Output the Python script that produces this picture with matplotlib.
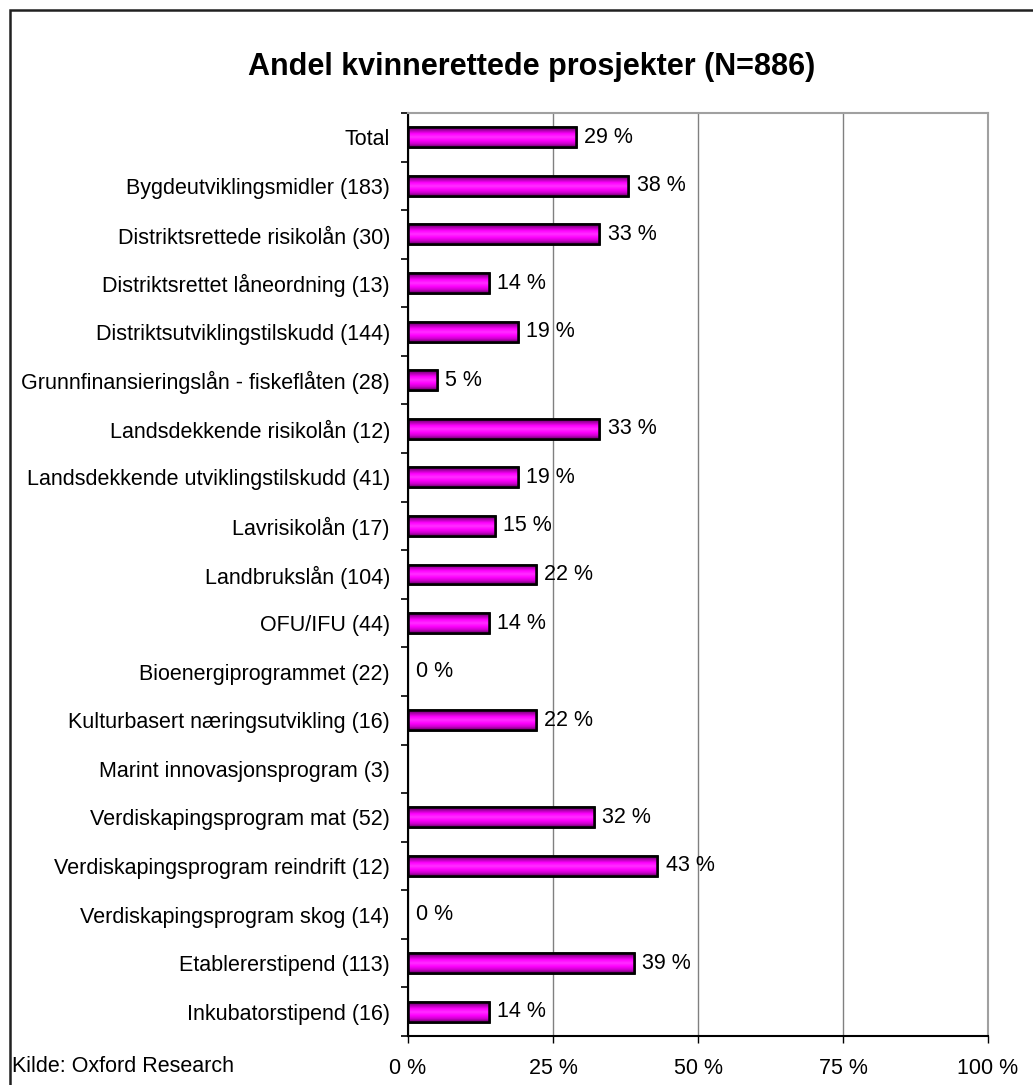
import numpy as np
import matplotlib
matplotlib.use("Agg")
import matplotlib.pyplot as plt
from matplotlib.colors import LinearSegmentedColormap
from matplotlib.patches import Rectangle

plt.rcParams['font.family'] = ['Liberation Sans', 'DejaVu Sans']

categories = [
    "Total",
    "Bygdeutviklingsmidler (183)",
    "Distriktsrettede risikolån (30)",
    "Distriktsrettet låneordning (13)",
    "Distriktsutviklingstilskudd (144)",
    "Grunnfinansieringslån - fiskeflåten (28)",
    "Landsdekkende risikolån (12)",
    "Landsdekkende utviklingstilskudd (41)",
    "Lavrisikolån (17)",
    "Landbrukslån (104)",
    "OFU/IFU (44)",
    "Bioenergiprogrammet (22)",
    "Kulturbasert næringsutvikling (16)",
    "Marint innovasjonsprogram (3)",
    "Verdiskapingsprogram mat (52)",
    "Verdiskapingsprogram reindrift (12)",
    "Verdiskapingsprogram skog (14)",
    "Etablererstipend (113)",
    "Inkubatorstipend (16)",
]
# share of projects aimed at women, percent (None = no data)
shares = [29, 38, 33, 14, 19, 5, 33, 19, 15, 22, 14, 0, 22, None, 32, 43, 0, 39, 14]
x_ticks = [0, 25, 50, 75, 100]
x_ticklabels = ["0 %", "25 %", "50 %", "75 %", "100 %"]

FS = 15.5

fig = plt.figure(figsize=(10.33, 10.85), dpi=100)
ax = fig.add_axes([408/1033, 49/1085, 580/1033, 923/1085])

n = len(categories)
ypos = np.arange(n)
bar_h = 0.41

# only non-zero values get a bar
bar_y = [y for y, v in zip(ypos, shares) if v]
bar_v = [v for v in shares if v]
bars = ax.barh(bar_y, bar_v, height=bar_h, color="#ff00ff", edgecolor="black",
               linewidth=1.8, zorder=3)

# cylinder-like shading inside each bar
shade = LinearSegmentedColormap.from_list(
    "shade", ["#6a006a", "#d000d0", "#ff00ff", "#ff30ff", "#ff00ff", "#b000b0", "#5a005a"])
grad = np.linspace(0, 1, 64).reshape(-1, 1)
for b in bars:
    x0, y0 = b.get_x(), b.get_y()
    w, h = b.get_width(), b.get_height()
    im = ax.imshow(grad, cmap=shade, aspect="auto", origin="lower",
                   extent=[x0, x0 + w, y0 + h, y0], zorder=3.5, interpolation="bilinear")
    im.set_clip_path(b)
    ax.add_patch(Rectangle((x0, y0), w, h, facecolor="none", edgecolor="black",
                           linewidth=1.8, zorder=4))

for y, v in zip(ypos, shares):
    if v is None:
        continue
    ax.text(v + 1.4, y, f"{v} %", va="center", ha="left", fontsize=FS, zorder=5)

ax.set_xlim(0, 100)
ax.set_ylim(n - 0.5, -0.5)
ax.set_xticks(x_ticks)
ax.set_xticklabels(x_ticklabels, fontsize=FS)
ax.set_yticks(ypos)
ax.set_yticklabels(categories, fontsize=FS)
ax.tick_params(axis="y", length=0, pad=13)
ax.set_yticks(np.arange(-0.5, n, 1), minor=True)
ax.tick_params(axis="y", which="minor", length=5, width=1.2, direction="out", color="black")
ax.tick_params(axis="x", length=5, width=1.0, direction="out", pad=10.5, color="black")

ax.grid(axis="x", color="#808080", linewidth=1.0, zorder=0)
for s in ["top", "right"]:
    ax.spines[s].set_color("#a0a0a0")
    ax.spines[s].set_linewidth(1.5)
ax.spines["left"].set_color("black")
ax.spines["left"].set_linewidth(1.5)
ax.spines["bottom"].set_color("black")
ax.spines["bottom"].set_linewidth(1.5)

fig.text(532/1033, 1 - 67/1085, "Andel kvinnerettede prosjekter (N=886)",
         ha="center", va="center", fontsize=22, fontweight="bold")
fig.text(12/1033, 1 - 1067/1085, "Kilde: Oxford Research", ha="left", va="center",
         fontsize=FS)

# outer chart frame (runs off the right and bottom edges)
fig.patches.append(Rectangle((9.5/1033, -0.1), 1.2, 1.1 - 9.5/1085,
                             transform=fig.transFigure, facecolor="none",
                             edgecolor="#202020", linewidth=1.8))

fig.savefig("out.png", dpi=100)
